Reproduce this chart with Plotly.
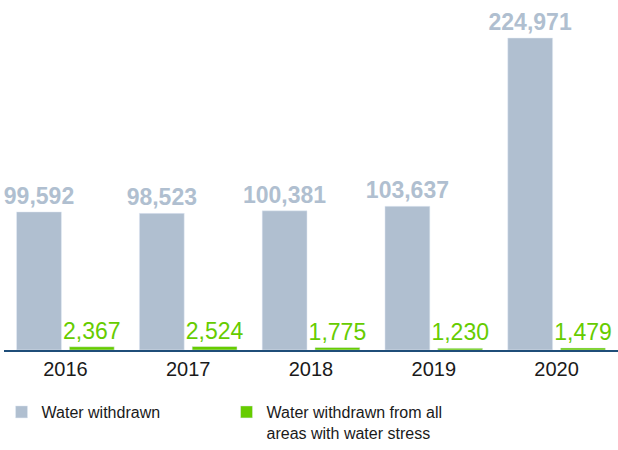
import plotly.graph_objects as go

years = ["2016", "2017", "2018", "2019", "2020"]
withdrawn = [99592, 98523, 100381, 103637, 224971]
stress = [2367, 2524, 1775, 1230, 1479]

GRAY = "#b0bfd0"
GREEN = "#66cc00"

fig = go.Figure()

fig.add_trace(go.Bar(
    x=years, y=withdrawn,
    name="Water withdrawn",
    marker_color=GRAY,
    text=[f"{v:,}" for v in withdrawn],
    textposition="outside",
    textfont=dict(family="Liberation Sans", size=23, color=GRAY, weight="bold"),
    constraintext="none",
    cliponaxis=False,
))

fig.add_trace(go.Bar(
    x=years, y=stress,
    name="Water withdrawn from all<br>areas with water stress",
    marker_color=GREEN,
    text=[f"{v:,}" for v in stress],
    textposition="outside",
    textfont=dict(family="Liberation Sans", size=23, color=GREEN),
    constraintext="none",
    cliponaxis=False,
))

fig.update_layout(
    width=618, height=450,
    barmode="group",
    bargap=0.14,
    bargroupgap=0.15,
    plot_bgcolor="white",
    paper_bgcolor="white",
    margin=dict(l=4, r=0, t=30, b=100),
    font=dict(family="Liberation Sans", color="#1a1a1a"),
    showlegend=True,
    legend=dict(
        orientation="h",
        x=-0.004, y=-0.3125,
        xanchor="left", yanchor="bottom",
        font=dict(size=16, color="#1a1a1a"),
        entrywidth=180, entrywidthmode="pixels",
        valign="top",
        traceorder="normal",
    ),
)

fig.update_xaxes(
    showline=True, linecolor="#1f4e79", linewidth=2,
    ticks="", tickfont=dict(size=20, color="#1a1a1a"),
    showgrid=False,
)
fig.update_yaxes(
    range=[0, 230740],
    visible=False,
    showgrid=False,
)

# the page body has a default 8px margin; drop it so the figure sits at 0,0
fig.write_html(
    "out.html",
    config={"displayModeBar": False},
    post_script="document.body.style.margin='0';",
)
